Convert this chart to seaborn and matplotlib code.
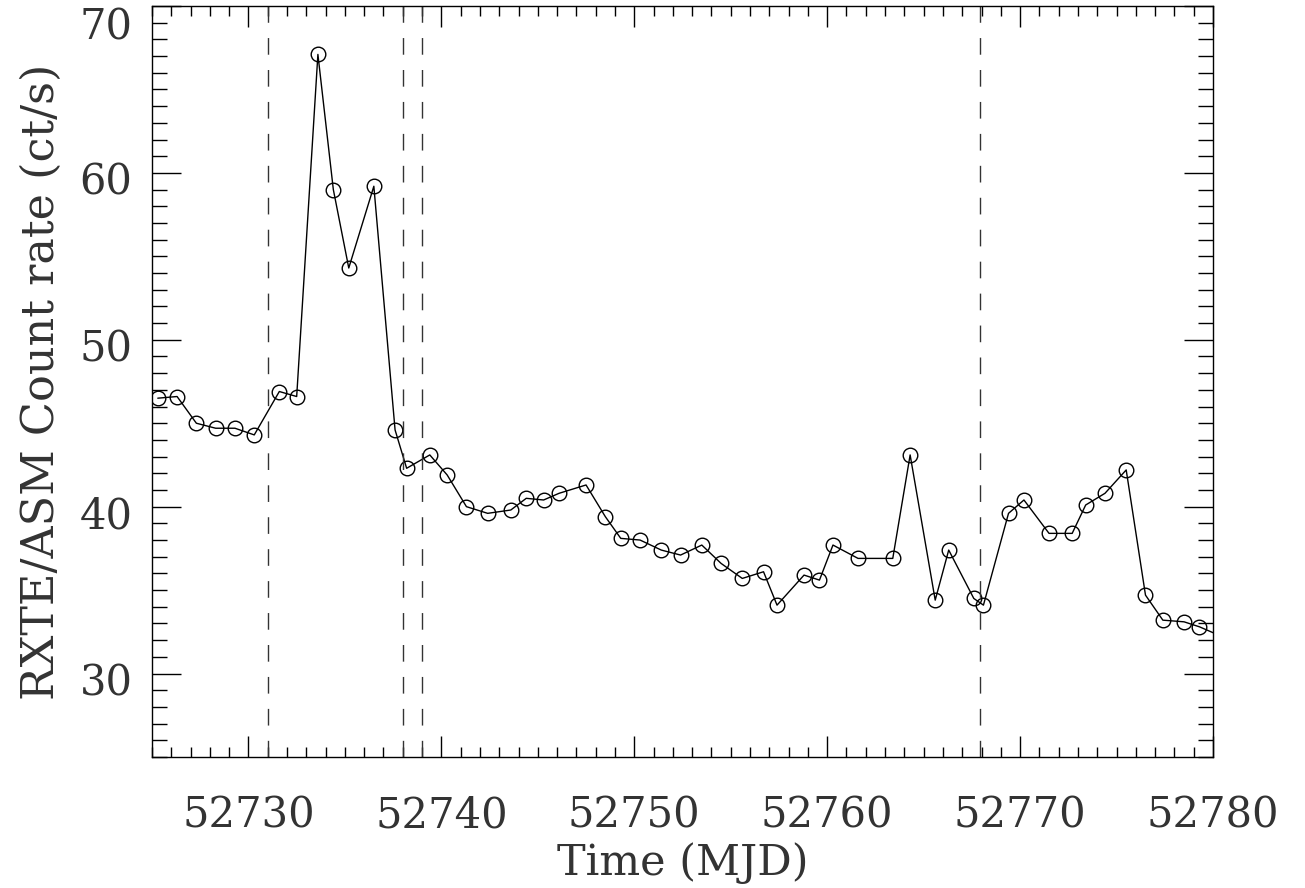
import matplotlib
matplotlib.use("Agg")
import matplotlib.pyplot as plt
import matplotlib.transforms as mtransforms
import seaborn as sns
import pandas as pd
from matplotlib.ticker import MultipleLocator

mjd = [52725.3, 52726.3, 52727.3, 52728.3, 52729.3, 52730.3, 52731.6, 52732.5,
       52733.6, 52734.4, 52735.2, 52736.5, 52737.6, 52738.2, 52739.4, 52740.3,
       52741.3, 52742.4, 52743.6, 52744.4, 52745.3, 52746.1, 52747.5, 52748.5,
       52749.3, 52750.3, 52751.4, 52752.4, 52753.5, 52754.5, 52755.6, 52756.7,
       52757.4, 52758.8, 52759.6, 52760.3, 52761.6, 52763.4, 52764.3, 52765.6,
       52766.3, 52767.6, 52768.1, 52769.4, 52770.2, 52771.5, 52772.7, 52773.4,
       52774.4, 52775.5, 52776.5, 52777.4, 52778.5, 52779.3, 52780.5]
rate = [46.5, 46.6, 45.0, 44.7, 44.7, 44.3, 46.9, 46.6,
        67.1, 59.0, 54.3, 59.2, 44.6, 42.3, 43.1, 41.9,
        40.0, 39.6, 39.8, 40.5, 40.4, 40.8, 41.3, 39.4,
        38.1, 38.0, 37.4, 37.1, 37.7, 36.6, 35.7, 36.1,
        34.1, 35.9, 35.6, 37.7, 36.9, 36.9, 43.1, 34.4,
        37.4, 34.5, 34.1, 39.6, 40.4, 38.4, 38.4, 40.1,
        40.8, 42.2, 34.7, 33.2, 33.1, 32.8, 32.2]
event_lines = [52731.0, 52738.0, 52739.0, 52767.9]
xticks = [52730, 52740, 52750, 52760, 52770, 52780]
yticks = [30, 40, 50, 60, 70]

sns.set_theme(style="ticks")
plt.rcParams['font.family'] = ['DejaVu Serif']

df = pd.DataFrame({"mjd": mjd, "rate": rate})

fig = plt.figure(figsize=(13.05, 8.88), dpi=100)
ax = fig.add_axes([152/1305, 1 - 757/888, (1213 - 152)/1305, (757 - 6)/888])

sns.lineplot(data=df, x="mjd", y="rate", ax=ax, sort=False, color="black",
             linewidth=1.0, marker="o", markersize=10.5, markerfacecolor="none",
             markeredgecolor="black", markeredgewidth=1.0)

for xv in event_lines:
    ax.axvline(xv, color="#333333", linestyle=(0, (12, 11)), linewidth=1.0)

ax.set_xlim(52725, 52780)
ax.set_ylim(25, 70)
ax.set_xticks(xticks)
ax.set_xticklabels([str(t) for t in xticks])
ax.set_yticks(yticks)
ax.set_yticklabels([str(t) for t in yticks])
ax.xaxis.set_minor_locator(MultipleLocator(1))
ax.yaxis.set_minor_locator(MultipleLocator(1))

ax.tick_params(axis="both", which="both", direction="in", top=True, right=True,
               colors="black", width=1.0)
ax.tick_params(axis="x", which="major", length=15, pad=27, labelsize=30)
ax.tick_params(axis="x", which="minor", length=7)
ax.tick_params(axis="y", which="major", length=21, pad=14, labelsize=30)
ax.tick_params(axis="y", which="minor", length=11)
for lab in ax.get_xticklabels() + ax.get_yticklabels():
    lab.set_color("#333333")

down = mtransforms.ScaledTranslation(0, -5/100, fig.dpi_scale_trans)
for lab in ax.get_yticklabels():
    if lab.get_text() == "70":
        lab.set_va("top")
        lab.set_transform(lab.get_transform() + mtransforms.ScaledTranslation(0, -1/100, fig.dpi_scale_trans))
    else:
        lab.set_transform(lab.get_transform() + down)

for sp in ax.spines.values():
    sp.set_color("black")
    sp.set_linewidth(1.0)

ax.set_xlabel("Time (MJD)", fontsize=31, color="#333333", labelpad=4)
ax.set_ylabel("RXTE/ASM Count rate (ct/s)", fontsize=32, color="#333333", labelpad=12)

fig.savefig("out.png", dpi=100)
